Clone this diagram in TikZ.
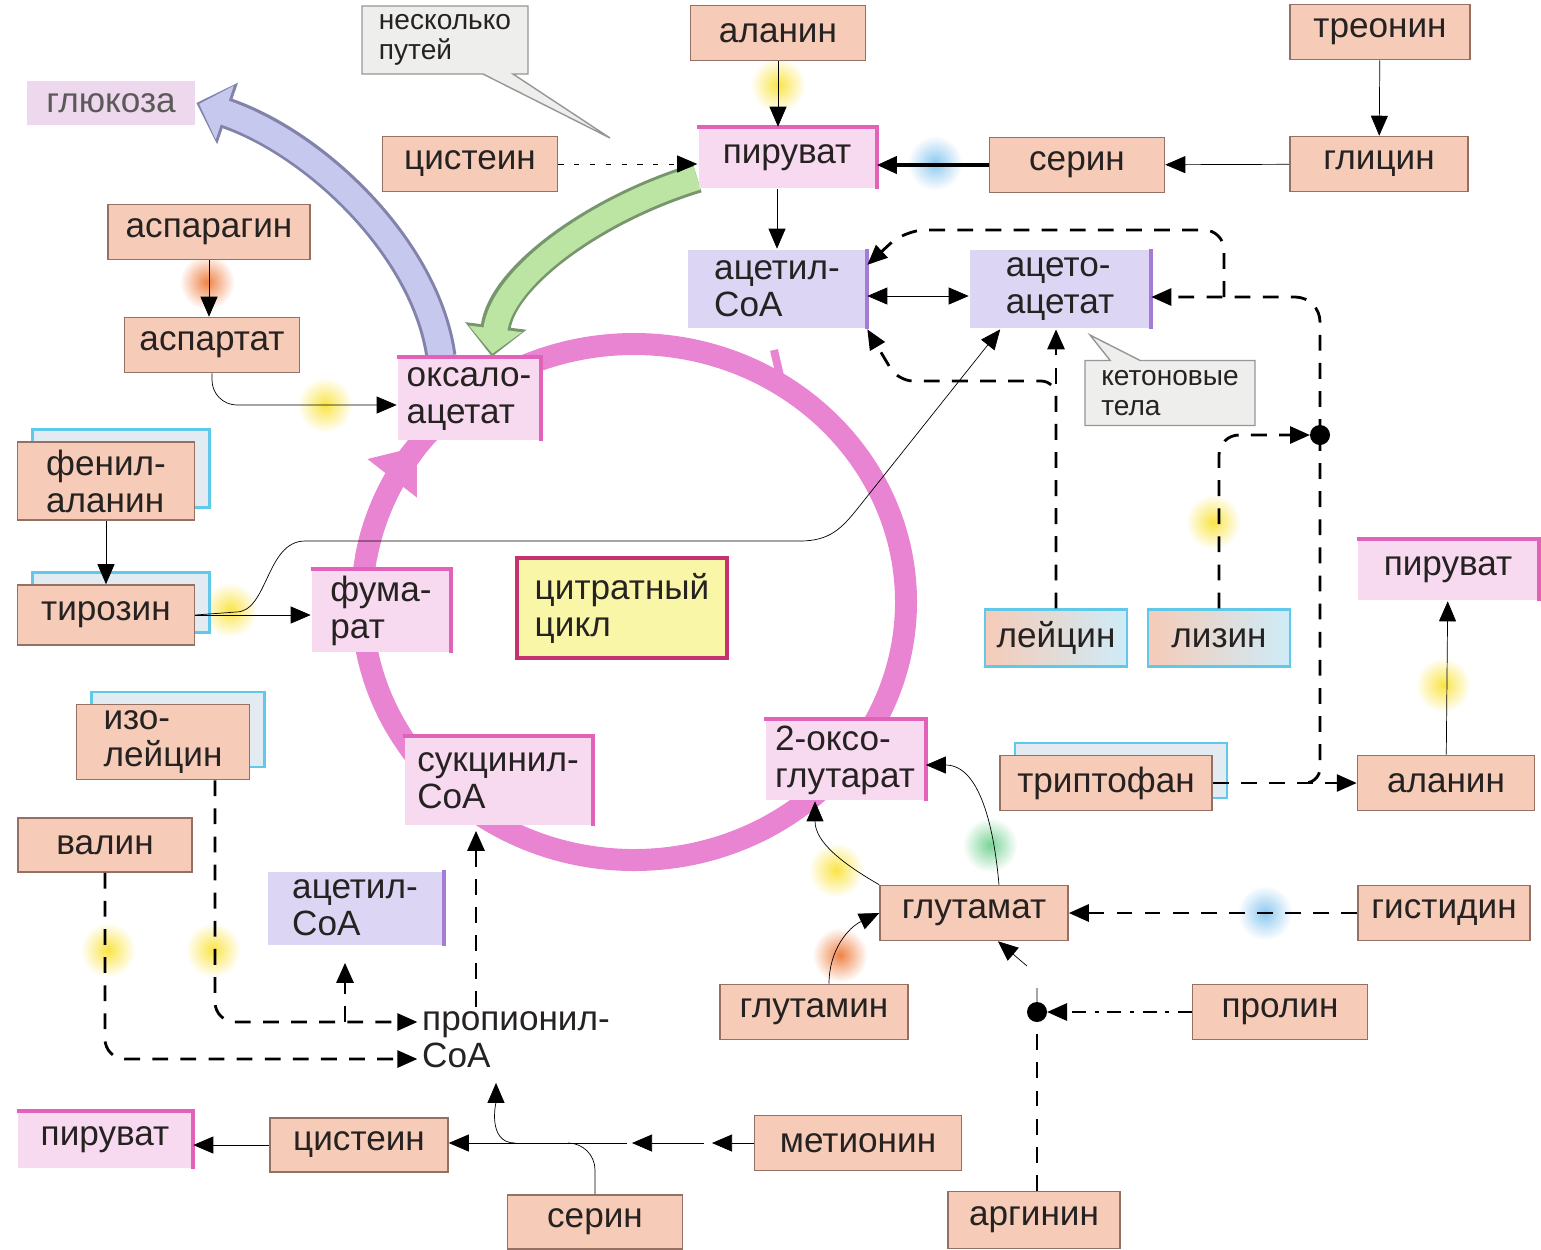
\documentclass[tikz,border=0pt]{standalone}
\usepackage{fontspec}
\setmainfont{Liberation Sans}
\usetikzlibrary{arrows.meta,shapes.callouts,shadows}

\definecolor{ink}{RGB}{38,34,34}
\definecolor{aminofill}{RGB}{246,203,184}
\definecolor{aminoedge}{RGB}{150,112,98}
\definecolor{metafill}{RGB}{248,218,240}
\definecolor{metaedge}{RGB}{226,98,186}
\definecolor{coafill}{RGB}{220,214,244}
\definecolor{coaedge}{RGB}{164,124,214}
\definecolor{ringpink}{RGB}{232,132,210}
\definecolor{cyanedge}{RGB}{96,200,232}
\definecolor{cyanfill}{RGB}{206,236,248}
\definecolor{shadowfill}{RGB}{226,234,242}
\definecolor{notefill}{RGB}{238,238,236}
\definecolor{noteedge}{RGB}{150,150,150}
\definecolor{citfill}{RGB}{250,246,168}
\definecolor{citedge}{RGB}{196,50,112}
\definecolor{glucfill}{RGB}{238,216,238}
\definecolor{greenfat}{RGB}{188,228,162}
\definecolor{greenedge}{RGB}{120,150,110}
\definecolor{lilacfat}{RGB}{198,200,238}
\definecolor{lilacedge}{RGB}{130,130,170}
\definecolor{glowyellow}{RGB}{250,228,70}
\definecolor{glowblue}{RGB}{140,200,240}
\definecolor{gloworange}{RGB}{240,130,70}
\definecolor{glowgreen}{RGB}{120,212,150}

\pgfdeclarelayer{background}
\pgfsetlayers{background,main}

\begin{document}
\begin{tikzpicture}[x=0.02cm,y=-0.02cm,font=\fontsize{20}{21}\selectfont,text=ink,
    line width=1.5pt,>={Triangle[length=0.4cm,width=0.34cm]},
    amino/.style={draw=aminoedge,fill=aminofill,line width=0.9pt,minimum width=3.5cm,minimum height=1.1cm,inner sep=1pt},
    meta/.style={fill=metafill,align=left,inner sep=2pt},
    coa/.style={fill=coafill,align=left,inner sep=2pt},
    shadowed/.style={copy shadow={shadow xshift=0.3cm,shadow yshift=0.25cm,fill=shadowfill,draw=cyanedge,line width=1.2pt}},
    mixed/.style={draw=cyanedge,line width=1.2pt,left color=aminofill,right color=cyanfill,minimum width=2.84cm,minimum height=1.14cm},
    note/.style={rectangle callout,draw=noteedge,fill=notefill,line width=0.8pt,align=left,
      font=\fontsize{16}{17}\selectfont,callout pointer width=0.6cm,inner sep=3pt},
    dashline/.style={line width=1.6pt,dash pattern=on 9pt off 7pt},
    ring/.style={draw=ringpink,line width=0.44cm}]
  \useasboundingbox (0,0) rectangle (1541,1249);

  % top
  \node[note,minimum width=3.32cm,minimum height=1.36cm,callout absolute pointer={(610,138)}] (several) at (445,40) {несколько\\путей};
  \node[fill=glucfill,minimum width=3.36cm,minimum height=0.88cm,text=ink!75] (gluc) at (111,103) {глюкоза};
  \node[amino] (alaT) at (778,33) {аланин};
  \node[amino,minimum width=3.6cm] (thr) at (1380,32) {треонин};
  \node[amino] (cysT) at (470,164) {цистеин};
  \node[meta,minimum width=3.54cm,minimum height=1.2cm] (pyrT) at (787,158) {пируват};
  \node[amino] (serT) at (1077,165) {серин};
  \node[amino,minimum width=3.56cm] (gly) at (1379,164) {глицин};
  \node[amino,minimum width=4.04cm] (asn) at (209,232) {аспарагин};
  \node[amino] (asp) at (212,345) {аспартат};
  \node[coa,minimum width=3.56cm,minimum height=1.56cm] (acoaT) at (777,289) {ацетил-\\CoA};
  \node[coa,minimum width=3.6cm,minimum height=1.56cm] (acac) at (1060,289) {ацето-\\ацетат};
  \node[meta,minimum width=2.84cm,minimum height=1.64cm] (oxal) at (469,399) {оксало-\\ацетат};
  \node[note,minimum width=3.4cm,minimum height=1.3cm,callout absolute pointer={(1090,335)}] (keto) at (1170,393) {кетоновые\\тела};

  % middle
  \node[amino,shadowed,minimum width=3.54cm,minimum height=1.56cm,align=left] (phe) at (106,481) {фенил-\\аланин};
  \node[amino,shadowed,minimum width=3.54cm,minimum height=1.2cm] (tyr) at (106,615) {тирозин};
  \node[meta,minimum width=2.76cm,minimum height=1.64cm] (fum) at (381,611) {фума-\\рат};
  \node[draw=citedge,line width=2pt,fill=citfill,minimum width=4.2cm,minimum height=2cm,align=left] (cit) at (622,608) {цитратный\\цикл};
  \node[meta,minimum width=3.6cm,minimum height=1.2cm] (pyrR) at (1448,570) {пируват};
  \node[mixed] (leu) at (1056,638) {лейцин};
  \node[mixed] (lys) at (1219,638) {лизин};
  \node[amino,shadowed,minimum width=3.46cm,minimum height=1.5cm,align=left] (ile) at (163,742) {изо-\\лейцин};
  \node[meta,minimum width=3.74cm,minimum height=1.74cm] (succ) at (498,781) {сукцинил-\\CoA};
  \node[meta,minimum width=3.18cm,minimum height=1.6cm] (oxo) at (845,760) {2-оксо-\\глутарат};
  \node[amino,shadowed,minimum width=4.24cm] (trp) at (1106,783) {триптофан};
  \node[amino,minimum width=3.54cm] (alaR) at (1446,783) {аланин};

  % bottom
  \node[amino,minimum width=3.48cm,minimum height=1.08cm] (val) at (105,845) {валин};
  \node[coa,minimum width=3.5cm,minimum height=1.46cm] (acoaB) at (355,908) {ацетил-\\CoA};
  \node[amino,minimum width=3.76cm] (glu) at (974,913) {глутамат};
  \node[amino,minimum width=3.44cm] (his) at (1444,913) {гистидин};
  \node[amino,minimum width=3.76cm] (gln) at (814,1012) {глутамин};
  \node[amino] (pro) at (1280,1012) {пролин};
  \node[align=left,inner sep=2pt] (propc) at (516,1040) {пропионил-\\CoA};
  \node[meta,minimum width=3.48cm,minimum height=1.12cm] (pyrB) at (105,1140) {пируват};
  \node[amino,minimum width=3.56cm,minimum height=1.08cm] (cysB) at (359,1145) {цистеин};
  \node[amino,minimum width=4.14cm] (met) at (858,1143) {метионин};
  \node[amino,minimum height=1.08cm] (serB) at (595,1222) {серин};
  \node[amino,minimum width=3.44cm,minimum height=1.14cm] (arg) at (1034,1220) {аргинин};

  \foreach \n in {pyrT,oxal,fum,succ,oxo,pyrR,pyrB}
    \draw[metaedge,line width=2.4pt] (\n.north west) -- (\n.north east) -- (\n.south east);
  \foreach \n in {acoaT,acac,acoaB}
    \draw[coaedge,line width=2.4pt] (\n.north east) -- (\n.south east);

  % cycle, big arrows and glows behind the boxes
  \begin{pgfonlayer}{background}
    \draw[ring] (634,602) ellipse [x radius=272,y radius=258];
    \draw[ring,-{Triangle[length=0.8cm,width=1.2cm]}] plot[domain=-170:-143,samples=20,smooth]
      ({634+272*cos(\x)},{602+258*sin(\x)});
    \draw[ringpink,line width=0.16cm] (774,350) -- (780,376);
    \draw[draw=greenedge,line width=0.6cm,-{Triangle[length=0.62cm,width=1.2cm]}]
      ([yshift=-0.4cm]pyrT.west) .. controls (598,208) and (502,276) .. ([xshift=0.46cm]oxal.north);
    \draw[draw=greenfat,line width=0.48cm,shorten >=0.06cm,-{Triangle[length=0.5cm,width=1.04cm]}]
      ([yshift=-0.4cm]pyrT.west) .. controls (598,208) and (502,276) .. ([xshift=0.46cm]oxal.north);
    \draw[draw=lilacedge,line width=0.62cm,-{Triangle[length=0.66cm,width=1.26cm]}]
      ([xshift=-0.56cm]oxal.north) .. controls (426,248) and (315,143) .. (gluc.east);
    \draw[draw=lilacfat,line width=0.5cm,shorten >=0.06cm,-{Triangle[length=0.54cm,width=1.1cm]}]
      ([xshift=-0.56cm]oxal.north) .. controls (426,248) and (315,143) .. (gluc.east);
    \foreach \gx/\gy/\gc in {778/85/glowyellow,935/163/glowblue,207/282/gloworange,325/405/glowyellow,
        230/610/glowyellow,1213/522/glowyellow,1443/685/glowyellow,108/950/glowyellow,213/950/glowyellow,
        1265/913/glowblue,840/955/gloworange,836/870/glowyellow,990/845/glowgreen}
      \shade[inner color=\gc,outer color=white] (\gx,\gy) circle (0.55cm);
  \end{pgfonlayer}

  % connectors
  \draw[->] (alaT) -- (alaT |- pyrT.north);
  \draw[->] (thr) -- (gly);
  \draw[->] (gly) -- (serT);
  \draw[->,line width=2.2pt] (serT.west) -- (serT.west -| pyrT.east);
  \draw[->,dash pattern=on 3pt off 6pt] (cysT.east) -- (cysT.east -| pyrT.west);
  \draw[->] (acoaT |- pyrT.south) -- (acoaT);
  \draw[<->] ([yshift=-0.14cm]acoaT.east) -- ([yshift=-0.14cm]acac.west);
  \draw[->] (asn) -- (asn |- asp.north);
  \draw[->,rounded corners=0.5cm] (asp) |- ([yshift=-0.12cm]oxal.west);
  \draw[->] (phe) -- (phe |- tyr.north);
  \draw[->] (tyr.east) -- (tyr.east -| fum.west);
  \draw[->] (tyr.east) -- (236,612) .. controls (268,612) and (266,541) .. (305,541) -- (800,541)
    .. controls (830,541) and (842,528) .. (858,508) -- (acac.214);

  % ketone bodies
  \coordinate (dotT) at (1320,435);
  \coordinate (kbr) at (1224,297);
  \coordinate (trj) at (1300,783);
  \fill (dotT) circle (0.2cm);
  \draw[->,dashline] (leu) -- (leu |- acac.south);
  \draw[->,dashline,rounded corners=0.3cm] (leu.north) -- (1056,381) -- (898,381) -- (acoaT.south east);
  \draw[->,dashline,rounded corners=0.4cm] (lys.north) -- (lys.north |- dotT) -- ([xshift=-0.2cm]dotT);
  \draw[->,dashline,rounded corners=0.5cm] (dotT) -- (dotT |- kbr) -- ([yshift=-0.16cm]acac.east);
  \draw[->,dashline,rounded corners=0.4cm] (kbr) -- (1224,230) -- (905,230) -- (acoaT.15);
  \draw[dashline,rounded corners=0.3cm] (dotT) -- (dotT |- trj) -- (trj);
  \draw[->,dashline] (trp) -- (alaR);
  \draw[->] (alaR) -- (pyrR);

  % propionyl-CoA
  \coordinate (ibr) at (345,1022);
  \draw[->,dashline,rounded corners=0.4cm] ([xshift=1.04cm]ile.south) -- (215,1022) -- ([yshift=0.36cm]propc.west);
  \draw[->,dashline,shorten >=0.34cm] (ibr) -- (ibr |- acoaB.south);
  \draw[->,dashline,rounded corners=0.4cm] (val) -- (105,1059) -- ([yshift=-0.38cm]propc.west);
  \draw[->,dashline,shorten >=0.1cm] ([xshift=-0.8cm]propc.north) -- ([xshift=-0.8cm]propc.north |- succ.south);

  % methionine, serine, cysteine
  \coordinate (m1) at (712,1143);
  \coordinate (m2) at (632,1143);
  \coordinate (sj) at (568,1143);
  \coordinate (pj) at (515,1143);
  \draw[->] (met) -- (m1);
  \draw[->,shorten <=0.16cm] (m1) -- (m2);
  \draw[->,shorten <=0.1cm] (m2) -- (m2 -| cysB.east);
  \draw (serB) -- (595,1170) to[out=90,in=0] (sj);
  \draw[->,shorten >=0.2cm] (pj) to[out=180,in=-90] ([xshift=-0.4cm]propc.south);
  \draw[->] (cysB.west) -- (cysB.west -| pyrB.east);

  % glutamate
  \coordinate (dotB) at (1037,1012);
  \fill (dotB) circle (0.2cm);
  \draw[->] ([xshift=0.3cm]gln.north) to[out=90,in=205] (glu.west);
  \draw[->] (glu.north west) to[out=150,in=-90] ([xshift=-0.6cm]oxo.south);
  \draw[->] ([xshift=0.5cm]glu.north) to[out=95,in=0] ([yshift=-0.1cm]oxo.east);
  \draw[->,dashline] (his) -- (glu);
  \draw[->,line width=1.6pt,dash pattern=on 8pt off 5pt on 2pt off 5pt] (pro) -- ([xshift=0.2cm]dotB);
  \draw[dashline] (dotB |- arg.north) -- (dotB);
  \draw[->] (dotB) -- ++(0,-24) ++(-10,-22) -- ([xshift=0.48cm]glu.south);
\end{tikzpicture}
\end{document}
